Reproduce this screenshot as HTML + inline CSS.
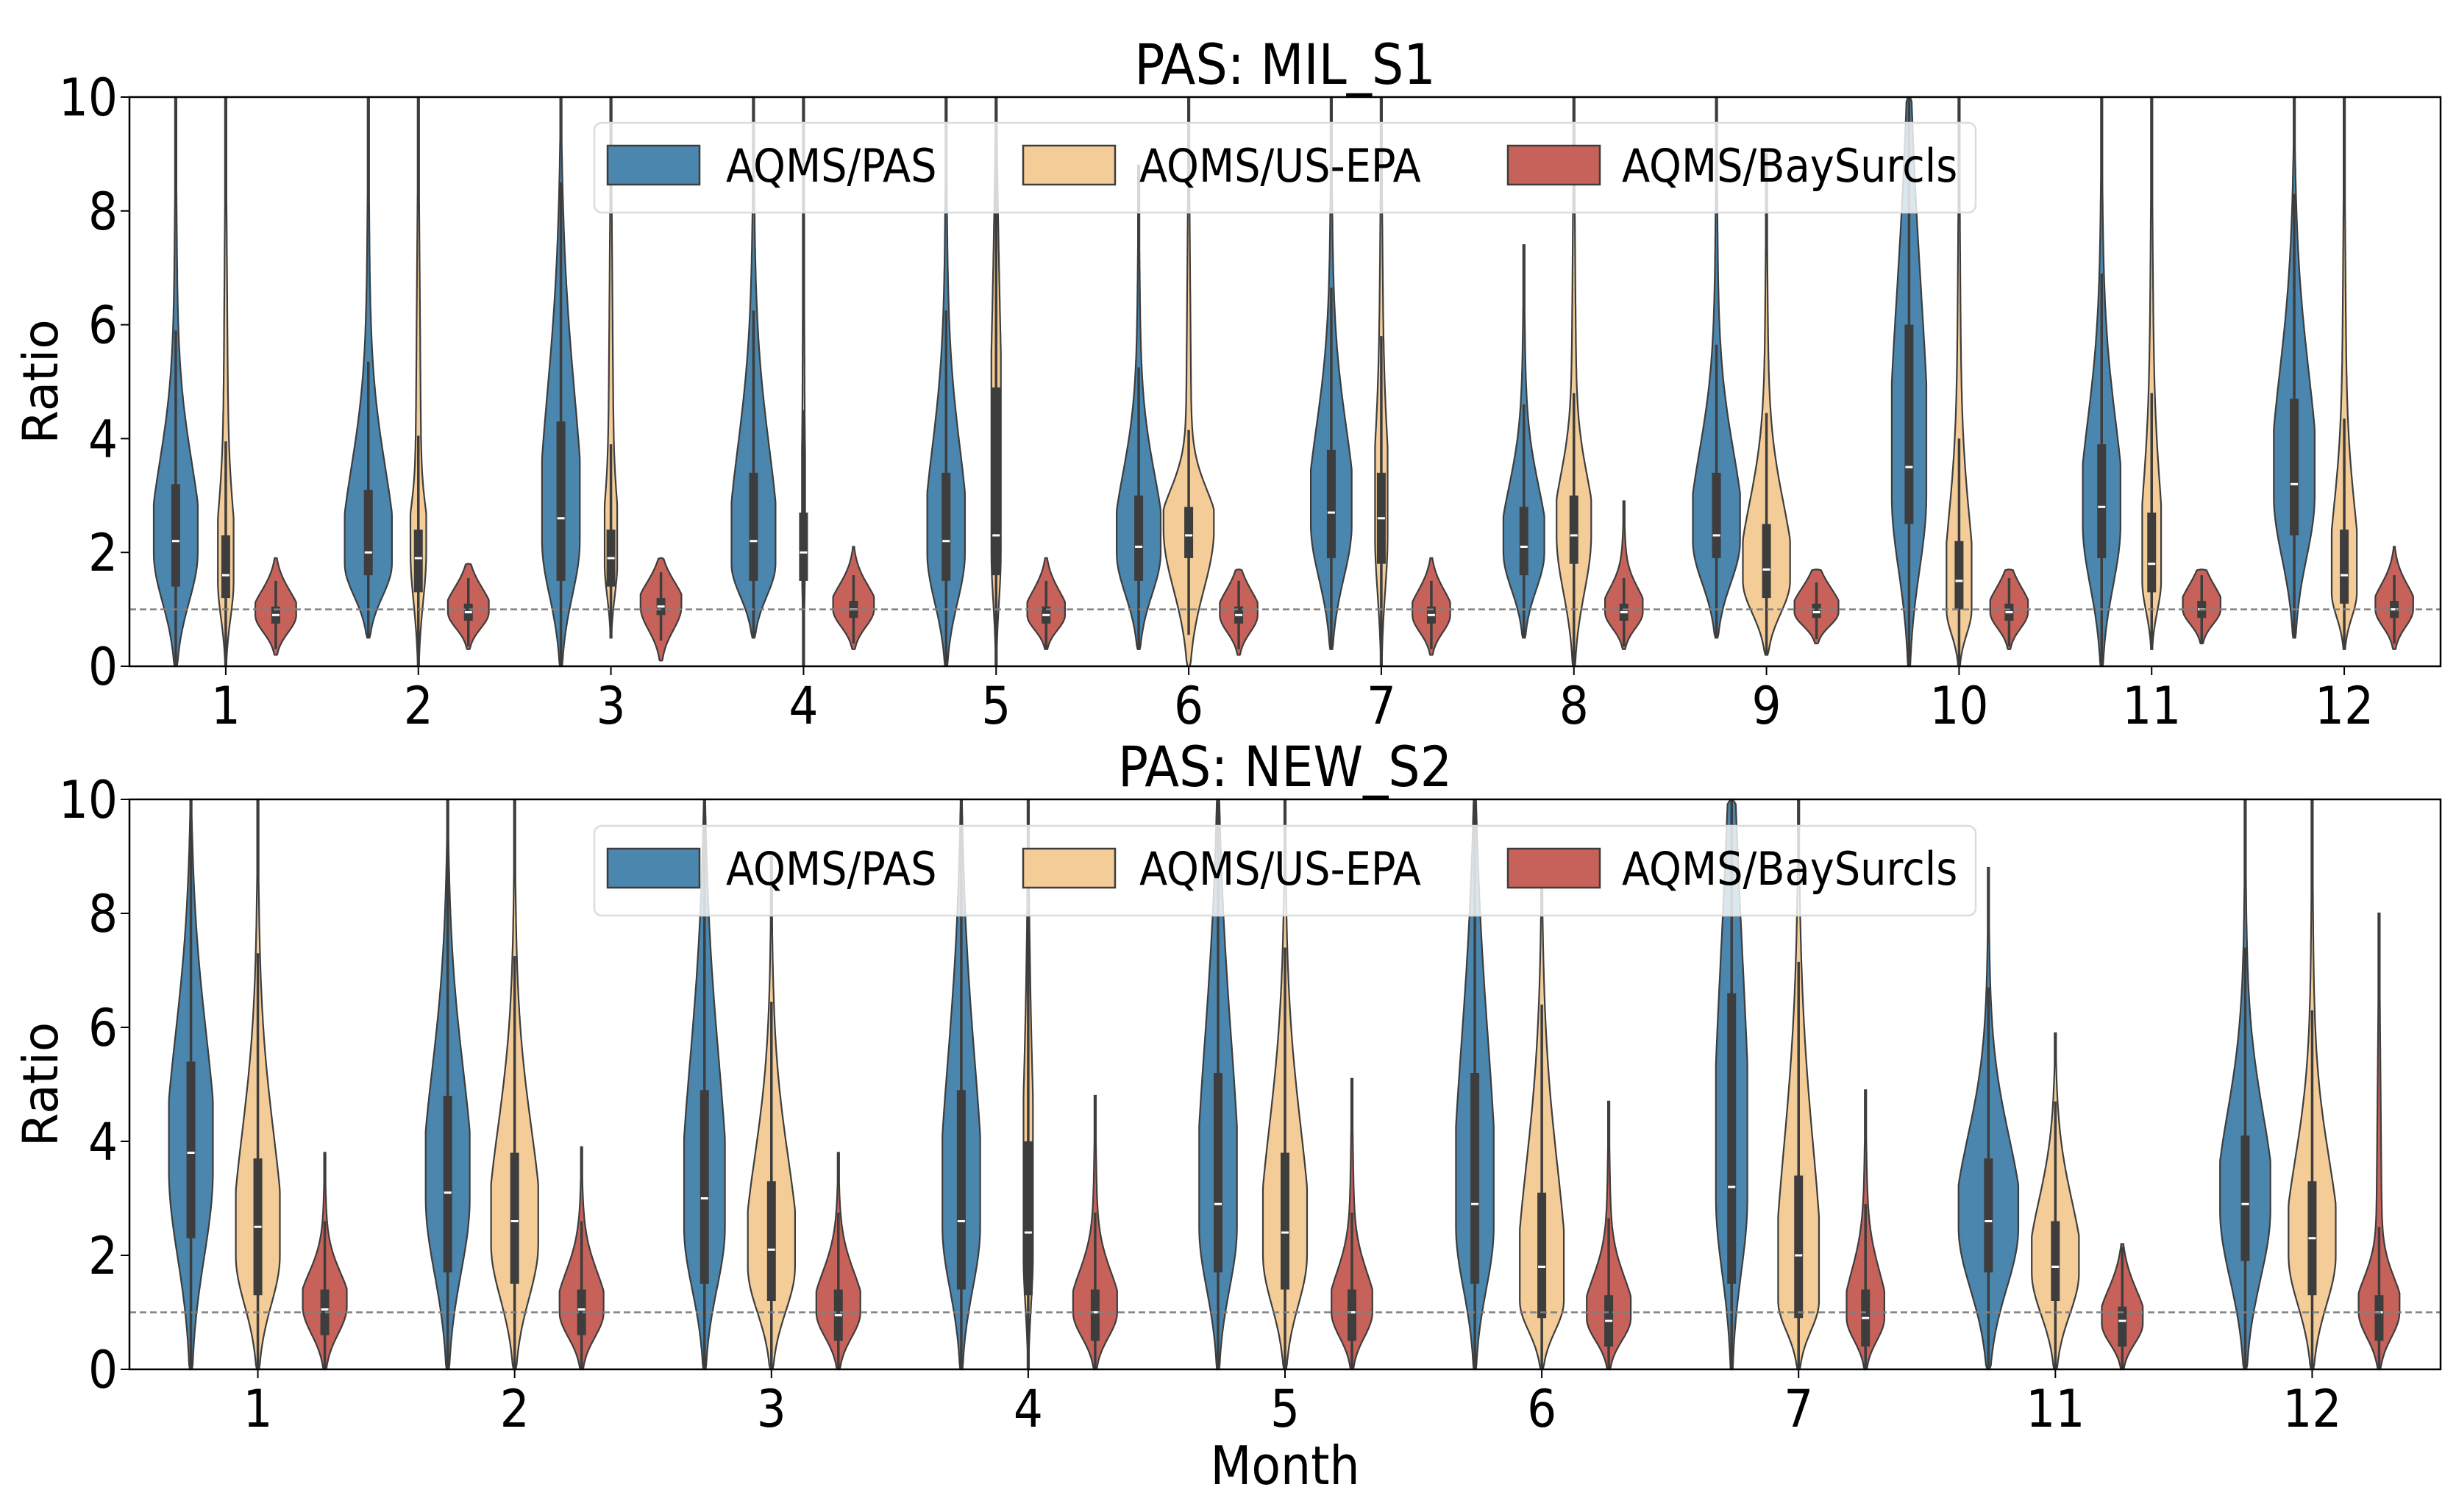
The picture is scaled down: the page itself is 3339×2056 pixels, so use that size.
<!DOCTYPE html>
<html><head><meta charset="utf-8"><style>
html,body{margin:0;padding:0;background:#fff;}
svg{display:block;}
text{font-family:"Liberation Sans Narrow","DejaVu Sans Condensed","Liberation Sans",sans-serif;fill:#000;}
</style></head><body>
<svg id="chart" width="3339" height="2056" viewBox="0 0 3339 2056" xmlns="http://www.w3.org/2000/svg"></svg>
<script>
// ---------- DATA: top panel (PAS: MIL_S1) ----------
const topMonths = ["1","2","3","4","5","6","7","8","9","10","11","12"];
const topPasMed  = [2.2,2.0,2.6,2.2,2.2,2.1,2.7,2.1,2.3,3.5,2.8,3.2];
const topPasQ1   = [1.4,1.6,1.5,1.5,1.5,1.5,1.9,1.6,1.9,2.5,1.9,2.3];
const topPasQ3   = [3.2,3.1,4.3,3.4,3.4,3.0,3.8,2.8,3.4,6.0,3.9,4.7];
const topPasMax  = [10,10,10,10,10,8.8,10,7.4,10,10,10,10];
const topPasMin  = [0,0.5,0,0.5,0,0.3,0.3,0.5,0.5,0,0,0.5];
const topPasMode = [2.0,1.8,2.2,1.8,2.0,2.0,2.5,2.0,2.2,3.0,2.5,3.0];
const topPasHw   = [14,15,12,14,12,14,13,13,15,11,12,13];

const topEpaMed  = [1.6,1.9,1.9,2.0,2.3,2.3,2.6,2.3,1.7,1.5,1.8,1.6];
const topEpaQ1   = [1.2,1.3,1.4,1.5,1.6,1.9,1.8,1.8,1.2,1.0,1.3,1.1];
const topEpaQ3   = [2.3,2.4,2.4,2.7,4.9,2.8,3.4,3.0,2.5,2.2,2.7,2.4];
const topEpaMax  = [10,10,10,10,10,10,10,10,9,10,10,10];
const topEpaMin  = [0,0,0.5,0,0,0,0,0,0.2,0,0.3,0.3];
const topEpaMode = [1.5,2.0,1.8,2.0,2.0,2.4,2.3,2.3,1.5,1.0,1.5,1.3];
const topEpaHw   = [5,5,4,1,3,16,4,11,15,8,6,8];

const topBayMed  = [0.9,0.95,1.05,1.0,0.9,0.9,0.9,0.95,0.95,0.95,1.0,1.0];
const topBayQ1   = [0.75,0.8,0.9,0.85,0.75,0.75,0.75,0.8,0.85,0.8,0.85,0.85];
const topBayQ3   = [1.05,1.1,1.2,1.15,1.05,1.05,1.05,1.1,1.1,1.1,1.15,1.15];
const topBayMax  = [1.9,1.8,1.9,2.1,1.9,1.7,1.9,2.9,1.7,1.7,1.7,2.1];
const topBayMin  = [0.2,0.3,0.1,0.3,0.3,0.2,0.2,0.3,0.4,0.3,0.4,0.3];
const topBayMode = [0.9,0.95,1.05,1.0,0.9,0.9,0.9,0.95,0.95,0.95,1.0,1.0];
const topBayHw   = [13,13,13,13,12,12,12,12,14,12,12,12];

// ---------- DATA: bottom panel (PAS: NEW_S2) ----------
const botMonths = ["1","2","3","4","5","6","7","11","12"];
const botPasMed  = [3.8,3.1,3.0,2.6,2.9,2.9,3.2,2.6,2.9];
const botPasQ1   = [2.3,1.7,1.5,1.4,1.7,1.5,1.5,1.7,1.9];
const botPasQ3   = [5.4,4.8,4.9,4.9,5.2,5.2,6.6,3.7,4.1];
const botPasMax  = [10,10,10,10,10,10,10,8.8,10];
const botPasMin  = [0,0,0,0,0,0,0,0,0];
const botPasMode = [3.5,3.0,2.5,2.5,2.5,2.5,3.0,2.5,2.8];
const botPasHw   = [14,14,13,12,12,12,10,19,16];

const botEpaMed  = [2.5,2.6,2.1,2.4,2.4,1.8,2.0,1.8,2.3];
const botEpaQ1   = [1.3,1.5,1.2,1.3,1.4,0.9,0.9,1.2,1.3];
const botEpaQ3   = [3.7,3.8,3.3,4.0,3.8,3.1,3.4,2.6,3.3];
const botEpaMax  = [10,10,9,10,10,9,10,5.9,10];
const botEpaMin  = [0,0,0,0,0,0,0,0,0];
const botEpaMode = [2.0,2.2,1.8,2.0,2.0,1.2,1.2,1.7,2.0];
const botEpaHw   = [14,15,15,3,14,14,13,15,15];

const botBayMed  = [1.05,1.05,0.95,1.0,1.0,0.85,0.9,0.85,1.0];
const botBayQ1   = [0.6,0.6,0.5,0.5,0.5,0.4,0.4,0.4,0.5];
const botBayQ3   = [1.4,1.4,1.4,1.4,1.4,1.3,1.4,1.1,1.3];
const botBayMax  = [3.8,3.9,3.8,4.8,5.1,4.7,4.9,2.2,8.0];
const botBayMin  = [0,0,0,0,0,0,0,0,0];
const botBayMode = [1.1,1.0,1.0,1.0,1.0,0.9,0.9,0.8,1.0];
const botBayHw   = [14,14,14,14,13,14,12,13,13];

const yTicks = [0,2,4,6,8,10];
const seriesNames = ["AQMS/PAS","AQMS/US-EPA","AQMS/BaySurcls"];
const colors = ["#4a86ad","#f4cc97","#c7625a"];

const NS="http://www.w3.org/2000/svg";
const svg=document.getElementById('chart');
function mk(tag,attrs,parent){const e=document.createElementNS(NS,tag);for(const k in attrs)e.setAttribute(k,attrs[k]);(parent||svg).appendChild(e);return e;}
const L=176,R=3318;
const S=2.14;

function panel(cfg){
  const g=mk('g',{});
  
  
  const top=cfg.top,bot=cfg.bot;
  const y=v=>bot-(v/10)*(bot-top);
  const n=cfg.months.length, band=(R-L)/n;
  const x=i=>L+band*(i+0.5);
  yTicks.forEach(t=>{
    mk('line',{x1:L-12,x2:L,y1:y(t),y2:y(t),stroke:'#000','stroke-width':2},g);
    const tx=mk('text',{x:L-16,y:y(t)+25,'text-anchor':'end','font-size':70},g);
    tx.textContent=t;
    
    
  });
  const series=[cfg.pas,cfg.epa,cfg.bay];
  series.forEach((s,si)=>{
    for(let i=0;i<n;i++){
      const cx=x(i)+(si-1)*cfg.off;
      const mn=s.min[i],mx=s.max[i],mo=s.mode[i],hw=s.hw[i]*S;
      const sl=Math.max((mo-mn)/2.3,0.15), su=Math.max((s.q3[i]-mo)*1.1+0.25,0.2);
      const tail=Math.min(hw,2.2*S);
      const pts=[],N=120;
      for(let k=0;k<=N;k++){
        const v=mn+(mx-mn)*k/N;
        let w;
        if(v<mo){w=hw*Math.exp(-0.5*Math.pow((v-mo)/sl,2));}
        else{w=hw*Math.exp(-0.5*Math.pow((v-mo)/su,2))+tail*(1-(v-mo)/Math.max(mx-mo,0.01));}
        w=Math.min(w,hw);
        if(k===0||k===N)w=Math.min(w,1.5);
        pts.push([v,Math.max(w,1)]);
      }
      let d='M'+pts.map(p=>(cx+p[1]).toFixed(1)+','+y(Math.min(p[0],10)).toFixed(1)).join('L');
      d+='L'+pts.slice().reverse().map(p=>(cx-p[1]).toFixed(1)+','+y(Math.min(p[0],10)).toFixed(1)).join('L')+'Z';
      const vp=mk('path',{d:d,fill:colors[si],stroke:'#3d3d3d','stroke-width':2.2},g);
      
      
      const iqr=s.q3[i]-s.q1[i];
      const wl=Math.max(mn,s.q1[i]-1.5*iqr), wh=Math.min(mx,s.q3[i]+1.5*iqr,10);
      mk('line',{x1:cx,x2:cx,y1:y(wl),y2:y(wh),stroke:'#3d3d3d','stroke-width':3.5},g);
      mk('rect',{x:cx-6,y:y(s.q3[i]),width:12,height:y(s.q1[i])-y(s.q3[i]),fill:'#3d3d3d'},g);
      mk('line',{x1:cx-5,x2:cx+5,y1:y(s.med[i]),y2:y(s.med[i]),stroke:'#fff','stroke-width':3},g);
    }
  });
  const ref=mk('line',{x1:L,x2:R,y1:y(1),y2:y(1),stroke:'#808080','stroke-width':2.5,'stroke-dasharray':'9,5'},g);
  
  
  cfg.months.forEach((m,i)=>{
    mk('line',{x1:x(i),x2:x(i),y1:bot,y2:bot+12,stroke:'#000','stroke-width':2},g);
    const tx=mk('text',{x:x(i),y:bot+78,'text-anchor':'middle','font-size':70},g);
    tx.textContent=m;
    
    
  });
  mk('rect',{x:L,y:top,width:R-L,height:bot-top,fill:'none',stroke:'#000','stroke-width':2.5},g);
  const t=mk('text',{x:(L+R)/2,y:top-18,'text-anchor':'middle','font-size':76},g);
  t.textContent=cfg.title;
  
  
  const yl=mk('text',{x:0,y:0,'text-anchor':'middle','font-size':66,transform:`translate(78,${(top+bot)/2}) rotate(-90)`,style:'font-family:"DejaVu Sans",sans-serif'},g);
  yl.textContent='Ratio';
  
  
  const lg=mk('g',{},g);
  
  
  const ly=cfg.legendY;
  mk('rect',{x:808,y:ly,width:1878,height:122,rx:10,fill:'#fff','fill-opacity':0.8,stroke:'#dcdcdc','stroke-width':2.5},lg);
  const px=[826,1391,2050], tx=[987,1549,2205];
  seriesNames.forEach((nm,k)=>{
    const e=mk('g',{},lg);
    
    
    mk('rect',{x:px[k],y:ly+31,width:125,height:53,fill:colors[k],stroke:'#3d3d3d','stroke-width':2.5},e);
    const tt=mk('text',{x:tx[k],y:ly+80,'font-size':62},e);
    tt.textContent=nm;
  });
}
panel({name:'top-panel',title:'PAS: MIL_S1',top:132,bot:906,months:topMonths,off:68,legendY:167,
  pas:{med:topPasMed,q1:topPasQ1,q3:topPasQ3,max:topPasMax,min:topPasMin,mode:topPasMode,hw:topPasHw},
  epa:{med:topEpaMed,q1:topEpaQ1,q3:topEpaQ3,max:topEpaMax,min:topEpaMin,mode:topEpaMode,hw:topEpaHw},
  bay:{med:topBayMed,q1:topBayQ1,q3:topBayQ3,max:topBayMax,min:topBayMin,mode:topBayMode,hw:topBayHw}});
panel({name:'bottom-panel',title:'PAS: NEW_S2',top:1087,bot:1862,months:botMonths,off:91,legendY:1123,
  pas:{med:botPasMed,q1:botPasQ1,q3:botPasQ3,max:botPasMax,min:botPasMin,mode:botPasMode,hw:botPasHw},
  epa:{med:botEpaMed,q1:botEpaQ1,q3:botEpaQ3,max:botEpaMax,min:botEpaMin,mode:botEpaMode,hw:botEpaHw},
  bay:{med:botBayMed,q1:botBayQ1,q3:botBayQ3,max:botBayMax,min:botBayMin,mode:botBayMode,hw:botBayHw}});
const xl=mk('text',{x:1747,y:2018,'text-anchor':'middle','font-size':72});
xl.textContent='Month';


</script>
</body></html>
